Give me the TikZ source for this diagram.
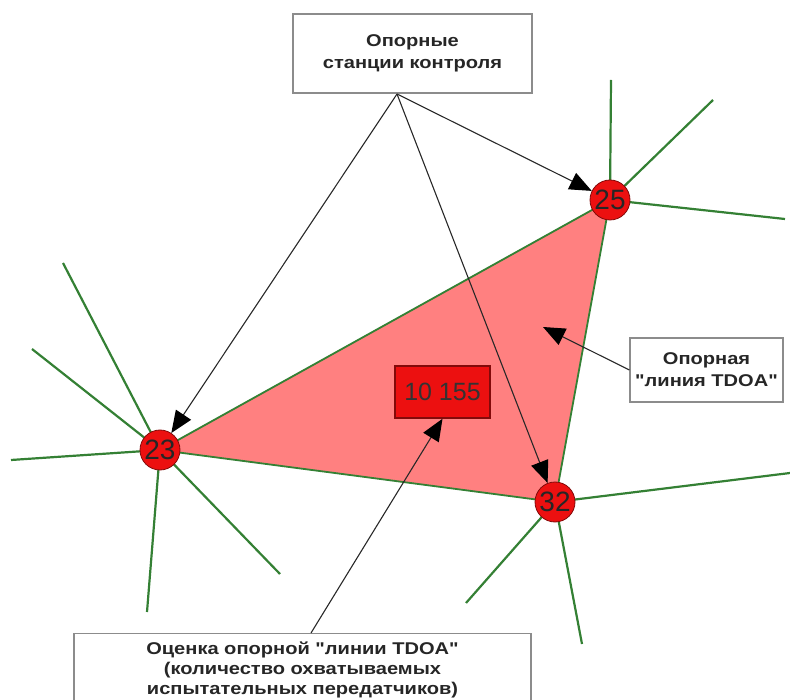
\documentclass[tikz,border=0pt]{standalone}
\usepackage{fontspec}
\setmainfont{Liberation Sans}
\newfontfamily\lblfont[FakeStretch=1.18]{Liberation Sans}
\usetikzlibrary{arrows.meta}
\definecolor{trifill}{RGB}{255,128,128}
\definecolor{grn}{RGB}{52,128,52}
\definecolor{nodered}{RGB}{236,16,16}
\definecolor{darkred}{RGB}{130,10,10}
\definecolor{boxgray}{RGB}{140,140,140}
\definecolor{arrgray}{RGB}{40,40,40}
\tikzset{
  station/.style={circle,fill=nodered,draw=darkred,line width=0.8pt,minimum size=40pt,inner sep=0pt,font=\fontsize{28}{28}\selectfont,text=black!85},
  ray/.style={draw=grn,line width=2.2pt},
  labelbox/.style={draw=boxgray,line width=1.2pt,fill=white,font=\lblfont\fontsize{17}{22}\selectfont\bfseries,text=black!85,align=center,inner sep=0pt},
  pointer/.style={draw=arrgray,line width=1.1pt,-{Triangle[length=22pt,width=18pt,color=black]}},
}
\begin{document}
\begin{tikzpicture}[x=1pt,y=-1pt]
\useasboundingbox (0,0) rectangle (790,700);
\clip (0,0) rectangle (790,700);
% triangle
\fill[trifill] (610,200) -- (160,450) -- (555,502) -- cycle;
\draw[grn,line width=1.8pt,line join=round] (610,200) -- (160,450) -- (555,502) -- cycle;
% rays
\coordinate (c25) at (610,200);
\coordinate (c23) at (160,450);
\coordinate (c32) at (555,502);
\coordinate (r25a) at (611,80);
\coordinate (r25b) at (713,100);
\coordinate (r25c) at (785,219);
\coordinate (r23a) at (63,263);
\coordinate (r23b) at (32,349);
\coordinate (r23c) at (11,460);
\coordinate (r23d) at (147,612);
\coordinate (r23e) at (280,574);
\coordinate (r32a) at (790,473);
\coordinate (r32b) at (466,603);
\coordinate (r32c) at (582,644);
\foreach \e in {r25a,r25b,r25c} \draw[ray] (c25) -- (\e);
\foreach \e in {r23a,r23b,r23c,r23d,r23e} \draw[ray] (c23) -- (\e);
\foreach \e in {r32a,r32b,r32c} \draw[ray] (c32) -- (\e);
% stations
\node[station] (n25) at (c25) {25};
\node[station] (n23) at (c23) {23};
\node[station] (n32) at (c32) {32};
% boxes
\node[labelbox,minimum width=239pt,minimum height=79pt] (top) at (412.5,53.5) {Опорные\\станции контроля};
\node[labelbox,minimum width=153pt,minimum height=64pt] (right) at (706.5,370) {Опорная\\\symbol{34}линия TDOA\symbol{34}};
\node[draw=darkred,line width=1.5pt,fill=nodered,minimum width=95pt,minimum height=52pt,inner sep=0pt,font=\fontsize{25}{25}\selectfont,text=black!80] (est) at (442.5,392) {10 155};
\node[draw=boxgray,line width=1.2pt,fill=white,minimum width=457pt,minimum height=90pt,inner sep=0pt,anchor=north] (bot) at (302.5,633) {};
\node[font=\lblfont\fontsize{17}{20}\selectfont\bfseries,text=black!85,align=center,anchor=north,inner sep=0pt] (bottxt) at (302.5,642) {Оценка опорной \symbol{34}линии TDOA\symbol{34}\\(количество охватываемых\\испытательных передатчиков)};
% pointers
\coordinate (src) at (397,94);
\draw[pointer] (src) -- (n25);
\draw[pointer] (src) -- (n23);
\draw[pointer] (src) -- (n32);
\coordinate (tipR) at (543,327);
\draw[pointer] (right.west) -- (tipR);
\coordinate (botsrc) at (311,633);
\draw[pointer] (botsrc) -- (est.south);
\end{tikzpicture}
\end{document}
